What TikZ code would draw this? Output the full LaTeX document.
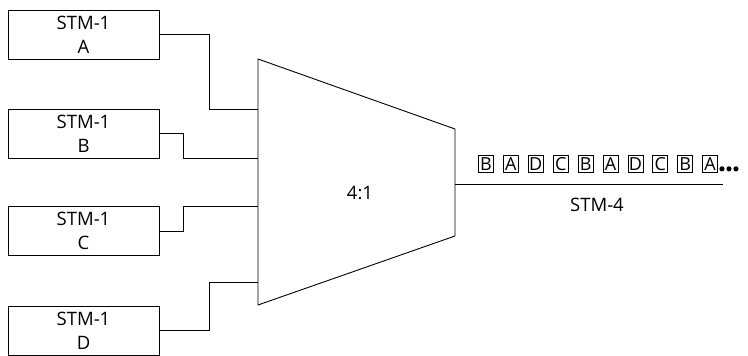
\documentclass[tikz,border=0pt]{standalone}
\usepackage{fontspec}
\setsansfont{Open Sans}
\usetikzlibrary{calc}

\begin{document}
\begin{tikzpicture}[x=1pt, y=-1pt, line width=0.9pt, font=\sffamily\fontsize{18.5}{24}\selectfont,
    tributary/.style={draw, align=center, minimum width=151pt, minimum height=49pt, inner sep=0pt},
    slot/.style={draw, line width=0.7pt, inner sep=0.3pt, minimum width=15pt, minimum height=17pt,
        font=\sffamily\fontsize{18}{18}\selectfont}]

\useasboundingbox (0,0) rectangle (748,356);

% tributaries
\node[tributary] (stmA) at (83.5,34.5) {STM-1\\A};
\node[tributary] (stmB) at (83.5,133.5) {STM-1\\B};
\node[tributary] (stmC) at (83.5,231) {STM-1\\C};
\node[tributary] (stmD) at (83.5,330.5) {STM-1\\D};

% multiplexer
\coordinate (muxTL) at (258,59);
\coordinate (muxBL) at (258,305);
\coordinate (muxTR) at (455,129);
\coordinate (muxBR) at (455,236);
\draw (muxTL) -- (muxTR) -- (muxBR) -- (muxBL) -- cycle;
\node (ratio) at (360,193) {4:1};

\coordinate (inA) at (258,109);
\coordinate (inB) at (258,158);
\coordinate (inC) at (258,206);
\coordinate (inD) at (258,282);
\coordinate (muxOut) at (455,184);
\coordinate (lineEnd) at (723,184);

\draw (stmA.east) -- ++(50,0) |- (inA);
\draw (stmB.east) -- ++(24,0) |- (inB);
\draw (stmC.east) -- ++(24,0) |- (inC);
\draw (stmD.east) -- ++(50,0) |- (inD);

% STM-4 output
\draw (muxOut) -- (lineEnd);
\foreach \lab [count=\i from 0] in {B,A,D,C,B,A,D,C,B,A}
    \node[slot] (frame\i) at ({486+24.9*\i},164) {\lab};
\foreach \dx in {0,7,14}
    \fill ($(frame9.south east)+(4+\dx,-4)$) circle (2.6);
\node (rate) at (597,205) {STM-4};

\end{tikzpicture}
\end{document}
